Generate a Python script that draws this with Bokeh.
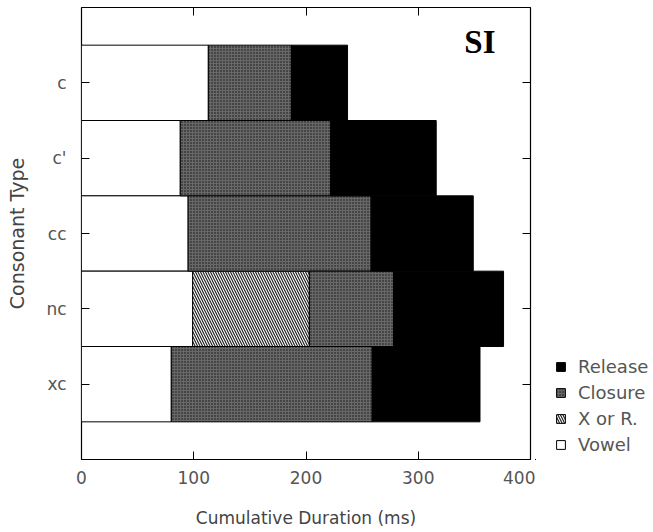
from bokeh.plotting import figure
from bokeh.layouts import row
from bokeh.models import (Range1d, FixedTicker, LinearAxis, Legend, LegendItem,
                          Label, ColumnDataSource)
from bokeh.embed import file_html
from bokeh.resources import INLINE

# ---- data (ms) ----
categories = ["c", "c'", "cc", "nc", "xc"]
vowel = [113, 88, 95, 99, 80]
x_or_r = [0, 0, 0, 104, 0]
closure = [74, 134, 163, 75, 179]
release = [50, 94, 91, 98, 96]
x_ticks = [0, 100, 200, 300, 400]
series_names = ["Release", "Closure", "X or R.", "Vowel"]

n = len(categories)
ypos = [n - i for i in range(n)]
v_end = vowel
x_end = [a + b for a, b in zip(v_end, x_or_r)]
c_end = [a + b for a, b in zip(x_end, closure)]
r_end = [a + b for a, b in zip(c_end, release)]

src = ColumnDataSource(dict(y=ypos, zero=[0] * n, v_end=v_end, x_end=x_end,
                            c_end=c_end, r_end=r_end))
xr_idx = [i for i in range(n) if x_or_r[i] > 0]
src_x = ColumnDataSource(dict(y=[ypos[i] for i in xr_idx],
                              v_end=[v_end[i] for i in xr_idx],
                              x_end=[x_end[i] for i in xr_idx]))

styles = dict(
    vowel=dict(fill_color="white", line_color="black", line_width=1),
    xr=dict(fill_color="white", hatch_pattern="\\", hatch_color="#222222",
            hatch_scale=5, hatch_weight=1.2, line_color="black", line_width=1),
    closure=dict(fill_color="#686868", hatch_pattern="dot", hatch_color="#111111",
                 hatch_scale=3, hatch_weight=1.5, line_color="black", line_width=1),
    release=dict(fill_color="black", line_color="black", line_width=1),
)

p = figure(width=535, height=530, output_backend="svg", toolbar_location=None,
           x_range=Range1d(0, 400), y_range=Range1d(0, n + 1),
           min_border_left=81, min_border_right=5, min_border_top=7,
           min_border_bottom=71)
p.background_fill_color = "white"
p.border_fill_color = "white"
p.outline_line_color = "black"
p.outline_line_width = 1.2
p.xgrid.visible = False
p.ygrid.visible = False

p.hbar(y="y", left="zero", right="v_end", height=1, source=src, **styles["vowel"])
p.hbar(y="y", left="v_end", right="x_end", height=1, source=src_x, **styles["xr"])
p.hbar(y="y", left="x_end", right="c_end", height=1, source=src, **styles["closure"])
p.hbar(y="y", left="c_end", right="r_end", height=1, source=src, **styles["release"])

font = "DejaVu Sans"
gray = "#555555"

# bottom axis
xa = p.xaxis[0]
xa.ticker = FixedTicker(ticks=x_ticks)
xa.axis_line_color = None
xa.major_tick_in = 8
xa.major_tick_out = 0
xa.minor_tick_line_color = None
xa.major_label_standoff = 11
xa.major_label_text_font = font
xa.major_label_text_font_size = "17px"
xa.major_label_text_color = gray
xa.axis_label = "Cumulative Duration (ms)"
xa.axis_label_text_font = font
xa.axis_label_text_font_style = "normal"
xa.axis_label_text_font_size = "17px"
xa.axis_label_text_color = "#444444"
xa.axis_label_standoff = 21

# left axis
ya = p.yaxis[0]
ya.ticker = FixedTicker(ticks=ypos)
ya.major_label_overrides = {ypos[i]: categories[i] for i in range(n)}
ya.axis_line_color = None
ya.major_tick_in = 8
ya.major_tick_out = 0
ya.minor_tick_line_color = None
ya.major_label_standoff = 15
ya.major_label_text_font = font
ya.major_label_text_font_size = "17px"
ya.major_label_text_color = gray
ya.axis_label = "Consonant Type"
ya.axis_label_text_font = font
ya.axis_label_text_font_style = "normal"
ya.axis_label_text_font_size = "19px"
ya.axis_label_text_color = "#444444"
ya.axis_label_standoff = 15

# top and right axes (ticks only)
top_ticks = [100, 200, 300]
top = LinearAxis(ticker=FixedTicker(ticks=top_ticks), axis_line_color=None,
                 major_tick_in=8, major_tick_out=0, minor_tick_line_color=None,
                 major_label_overrides={t: "" for t in top_ticks},
                 major_label_standoff=0)
p.add_layout(top, "above")
right = LinearAxis(ticker=FixedTicker(ticks=ypos), axis_line_color=None,
                   major_tick_in=8, major_tick_out=0, minor_tick_line_color=None,
                   major_label_overrides={t: "" for t in ypos},
                   major_label_standoff=0)
p.add_layout(right, "right")

p.add_layout(Label(x=341, y=5.3, text="SI", text_font="Liberation Serif",
                   text_font_style="bold", text_font_size="33px",
                   text_color="black"))

# ---- legend panel (same series, drawn out of view so only the key shows) ----
q = figure(width=117, height=530, output_backend="svg", toolbar_location=None,
           x_range=Range1d(1000, 1001), y_range=Range1d(100, 101), min_border=0,
           x_axis_location=None, y_axis_location=None)
q.outline_line_color = None
q.background_fill_color = "white"
q.border_fill_color = "white"
q.xgrid.visible = False
q.ygrid.visible = False
lv = q.hbar(y="y", left="zero", right="v_end", height=1, source=src, **styles["vowel"])
lx = q.hbar(y="y", left="v_end", right="x_end", height=1, source=src_x, **styles["xr"])
lc = q.hbar(y="y", left="x_end", right="c_end", height=1, source=src, **styles["closure"])
lr = q.hbar(y="y", left="c_end", right="r_end", height=1, source=src, **styles["release"])
legend = Legend(items=[LegendItem(label=series_names[0], renderers=[lr]),
                       LegendItem(label=series_names[1], renderers=[lc]),
                       LegendItem(label=series_names[2], renderers=[lx]),
                       LegendItem(label=series_names[3], renderers=[lv])],
                location=(20, 4), border_line_color=None,
                background_fill_color=None, glyph_width=11, glyph_height=11,
                label_text_font=font, label_text_font_size="18px",
                label_text_color=gray, spacing=5, padding=0, margin=0,
                label_standoff=12, label_height=20)
q.add_layout(legend, "center")

layout = row(p, q, spacing=0)
open("out.html", "w").write(file_html(layout, INLINE))
